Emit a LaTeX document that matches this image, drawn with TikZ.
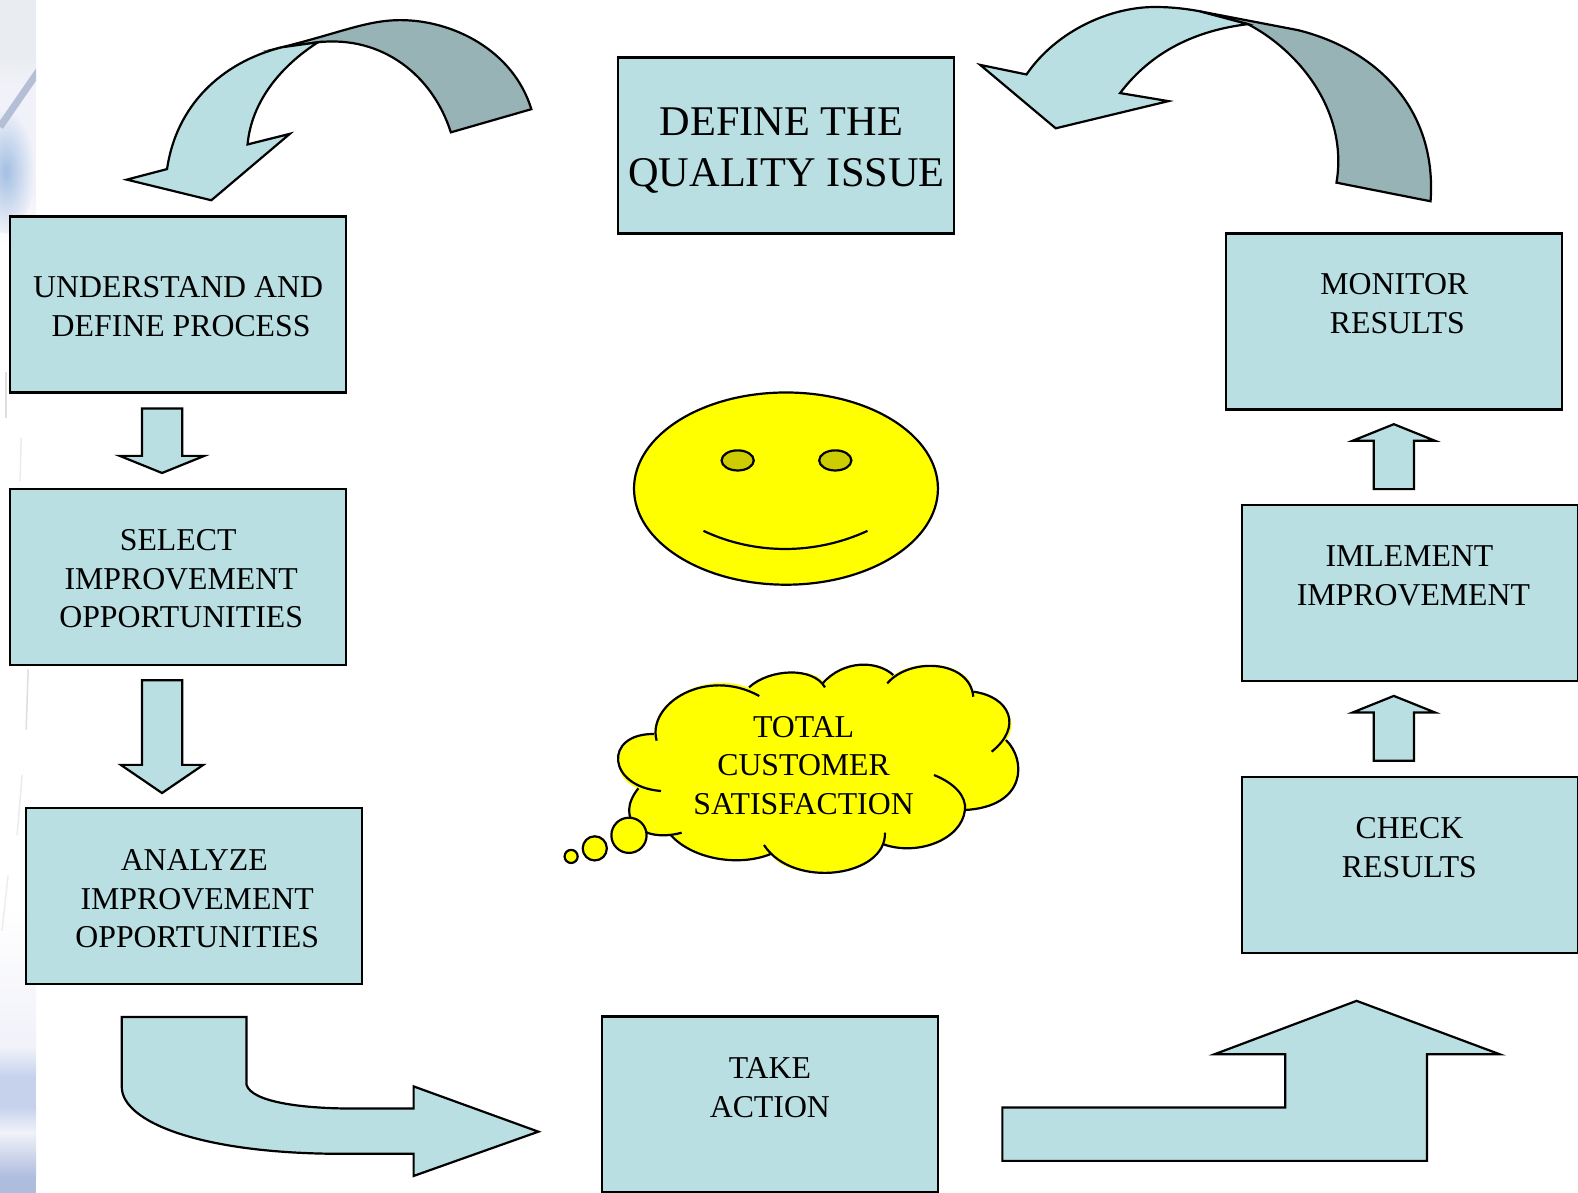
\documentclass[tikz,border=0pt]{standalone}
\usepackage{fontspec}
\setmainfont{Liberation Serif}
\usetikzlibrary{shapes.geometric}
\definecolor{boxc}{HTML}{B9DFE2}
\definecolor{darkc}{HTML}{98B3B5}
\definecolor{eyec}{HTML}{CCCC00}
\definecolor{ylwc}{RGB}{255,255,0}
\definecolor{topc}{HTML}{E9ECF0}
\definecolor{lavc}{HTML}{F1F2F9}
\definecolor{bluec}{HTML}{A3BFE2}
\definecolor{streakc}{HTML}{B4BFD6}
\definecolor{lowc}{HTML}{C6D2EC}
\definecolor{lowdc}{HTML}{AEBCDE}
\tikzset{
 boxn/.style={draw=black,line width=2.4pt,fill=boxc,minimum width=336pt,minimum height=176pt,inner sep=0pt,outer sep=0pt,anchor=north west},
 lab/.style={align=center,font=\fontsize{31.8}{38.7}\selectfont,inner sep=0pt,anchor=center},
 blk/.style={draw=black,line width=2.2pt,fill=boxc,line join=miter,miter limit=20},
 blkd/.style={blk,fill=darkc},
 ylw/.style={draw=black,line width=2.2pt,fill=ylwc},
 cl/.style={draw=black,line width=2.2pt,line cap=butt},
}
\begin{document}
\begin{tikzpicture}[x=1.00638pt,y=-1.00638pt]
\useasboundingbox (0,0) rectangle (1568,1185);
% faded background strip
\begin{scope}
\clip (0,0) rectangle (36,1185);
\fill[topc] (0,0) rectangle (36,55);
\fill[top color=topc,bottom color=lavc] (0,55) rectangle (36,85);
\fill[lavc] (0,85) rectangle (36,190);
\fill[top color=lavc,bottom color=white] (0,190) rectangle (36,245);
\shade[inner color=bluec,outer color=lavc] (6,170) ellipse (28 and 62);
\draw[streakc,line width=7pt] (40,68) -- (0,126);
\fill[top color=white,bottom color=lavc] (0,900) rectangle (36,1040);
\fill[top color=lavc,bottom color=lowc] (0,1040) rectangle (36,1070);
\fill[lowc] (0,1070) rectangle (36,1100);
\fill[top color=lowc,bottom color=lavc] (0,1100) rectangle (36,1125);
\fill[top color=lavc,bottom color=lowdc] (0,1125) rectangle (36,1170);
\fill[lowdc] (0,1170) rectangle (36,1185);
\draw[black!13,line width=1.5pt] (6,370) -- (6,415);
\draw[black!8,line width=1.5pt] (21,435) -- (20,478);
\draw[black!13,line width=1.5pt] (28,665) -- (26,725);
\draw[black!8,line width=1.5pt] (22,770) -- (17,830);
\draw[black!7,line width=1.5pt] (8,870) -- (2,925);
\end{scope}
% boxes
\node[boxn] (define) at (614,57) {};
\node[boxn] (understand) at (10,215) {};
\node[boxn] (select) at (10,486) {};
\node[boxn] (analyze) at (26,803) {};
\node[boxn] (take) at (598,1010) {};
\node[boxn] (check) at (1234,772) {};
\node[boxn] (implement) at (1234,502) {};
\node[boxn] (monitor) at (1218,232) {};
% labels
\node[lab,font=\fontsize{42.3}{51}\selectfont] (t0) at (779,149.5) {DEFINE THE\hspace*{5pt}\\\hspace*{5pt}QUALITY ISSUE};
\node[lab] (t1) at (178.5,305) {UNDERSTAND AND\hspace*{3pt}\\\hspace*{3pt}DEFINE PROCESS};
\node[lab] (t2) at (178.5,575) {SELECT\hspace*{3pt}\\\hspace*{3pt}IMPROVEMENT\\\hspace*{3pt}OPPORTUNITIES};
\node[lab] (t3) at (194.5,893) {ANALYZE\hspace*{3pt}\\\hspace*{3pt}IMPROVEMENT\\\hspace*{3pt}OPPORTUNITIES};
\node[lab] (t4) at (765,1080.5) {TAKE\\ACTION};
\node[lab] (t5) at (1400.5,842) {CHECK\\RESULTS};
\node[lab] (t6) at (1402.5,572) {IMLEMENT\hspace*{4pt}\\\hspace*{4pt}IMPROVEMENT};
\node[lab] (t7) at (1387,302) {MONITOR\hspace*{3pt}\\\hspace*{3pt}RESULTS};
% straight block arrows
\draw[blk] (141,406) -- (181,406) -- (181,453) -- (203,453) -- (161,470) -- (119,453) -- (141,453) -- cycle;
\draw[blk] (141,676) -- (181,676) -- (181,760) -- (202,760) -- (161,788) -- (120,760) -- (141,760) -- cycle;
\draw[blk] (1365,486) -- (1405,486) -- (1405,438) -- (1426,438) -- (1385,421.5) -- (1344,438) -- (1365,438) -- cycle;
\draw[blk] (1365,756) -- (1405,756) -- (1405,708) -- (1426,708) -- (1385,691.5) -- (1344,708) -- (1365,708) -- cycle;
\draw[blk] (996,1100.5) -- (1277,1100.5) -- (1277,1047.5) -- (1207,1047.5) -- (1348,994.5) -- (1490,1047.5) -- (1418,1047.5) -- (1418,1153.5) -- (996,1153.5) -- cycle;
\draw[blk] (121,1010.5) -- (245,1010.5) -- (245,1078) .. controls (250,1095) and (300,1101.5) .. (350,1101.5) -- (411,1101.5) -- (411,1079.5) -- (535,1124.5) -- (411,1168.5) -- (411,1146.5) -- (340,1146.5) .. controls (200,1146.5) and (121,1115) .. (121,1080) -- cycle;
% left curved arrow
\draw[blkd] (528,108.5) .. controls (510,50) and (450,20) .. (398,20) .. controls (365,20) and (340,32) .. (280,47) -- (316,42) .. controls (380,35) and (430,75) .. (448,131.5) -- cycle;
\draw[blk] (280,47) .. controls (220,62) and (175,105) .. (166,168) -- (126,178.5) -- (210,199) -- (288,133) -- (246,143.5) .. controls (250,100) and (280,65) .. (316,42) -- cycle;
% right curved arrow
\draw[blkd] (1191,11) -- (1290,30) .. controls (1370,50) and (1428,110) .. (1421.5,200) -- (1328,181.5) .. controls (1340,110) and (1290,50) .. (1240,24) -- cycle;
\draw[blk] (1240,24) .. controls (1190,30) and (1145,50) .. (1113,92.5) -- (1161,100.5) -- (1049,127.5) -- (974,64.5) -- (1020,74) .. controls (1050,30) and (1105,6) .. (1150,7) .. controls (1165,7) and (1180,9) .. (1191,11) -- cycle;
% face
\draw[ylw] (781,485.5) ellipse (151 and 95.5);
\draw[ylw,fill=eyec] (733,457.5) ellipse (16 and 10);
\draw[ylw,fill=eyec] (830,457.5) ellipse (16 and 10);
\draw[cl] (699,527.5) .. controls (750,551.5) and (810,551.5) .. (862,527.5);
% cloud
\begin{scope}[shift={(546.5,645.9)},x=0.3333pt,y=-0.3333pt]
\fill[ylwc] (312,252) .. controls (310,150) and (470,60) .. (600,115) .. controls (660,55) and (790,50) .. (825,100) .. controls (880,30) and (980,30) .. (1030,75) .. controls (1110,20) and (1260,40) .. (1270,125) .. controls (1370,140) and (1410,220) .. (1368,270) .. controls (1430,320) and (1430,470) .. (1245,480) .. controls (1230,580) and (1100,620) .. (1002,582) .. controls (960,680) and (720,700) .. (662,612) .. controls (570,650) and (430,630) .. (362,555) .. controls (280,575) and (200,510) .. (265,415) .. controls (170,380) and (190,250) .. (312,252) -- cycle;
\draw[cl] (320,272) .. controls (290,160) and (470,50) .. (628,138);
\draw[cl] (597,112) .. controls (660,55) and (790,50) .. (825,112);
\draw[cl] (818,100) .. controls (880,30) and (980,30) .. (1030,75);
\draw[cl] (1012,100) .. controls (1080,20) and (1260,30) .. (1270,140);
\draw[cl] (1270,125) .. controls (1380,140) and (1420,230) .. (1325,305);
\draw[cl] (1368,270) .. controls (1430,330) and (1430,470) .. (1245,480);
\draw[cl] (1152,375) .. controls (1215,400) and (1250,440) .. (1245,480) .. controls (1235,570) and (1100,620) .. (998,582);
\draw[cl] (1005,548) .. controls (1010,680) and (730,720) .. (642,585);
\draw[cl] (662,612) .. controls (570,650) and (430,630) .. (362,555);
\draw[cl] (395,548) .. controls (280,580) and (190,510) .. (265,415);
\draw[cl] (333,423) .. controls (170,410) and (160,250) .. (312,252);
\end{scope}
\draw[ylw] (625,830) circle (17.5);
\draw[ylw] (591,843) circle (12);
\draw[ylw] (567.5,851) circle (6.5);
\node[lab] (t8) at (798.5,760.5) {TOTAL\\CUSTOMER\\SATISFACTION};
\end{tikzpicture}
\end{document}
